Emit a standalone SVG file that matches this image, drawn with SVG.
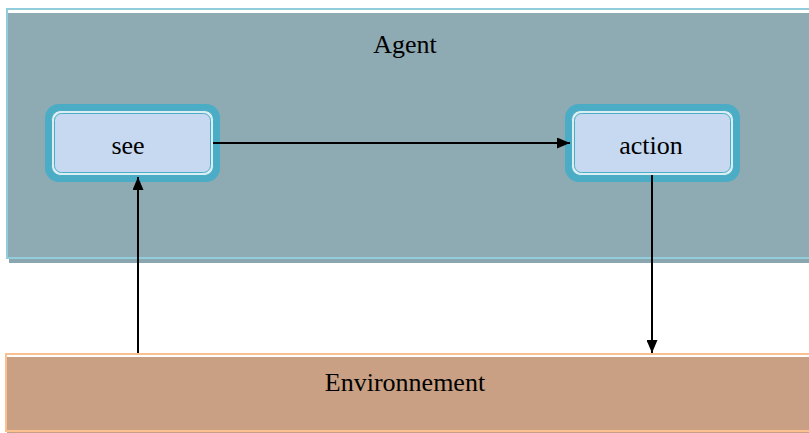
<svg xmlns="http://www.w3.org/2000/svg" width="809" height="433" viewBox="0 0 809 433">
<style>
  .lbl{font-family:"Liberation Serif","Times New Roman",serif;font-size:26px;fill:#000;text-anchor:middle}
  .conn{stroke:#000;stroke-width:2;fill:none}
  .outer{fill:#4bacc6}
  .mid{fill:#dbeef4;stroke:#4bacc6;stroke-width:1}
  .inner{fill:#c6d9f1;stroke:#4bacc6;stroke-width:1}
</style>
<defs>
  <marker id="ah" viewBox="0 0 13 11" refX="13" refY="5.5" markerWidth="13" markerHeight="11" markerUnits="userSpaceOnUse" orient="auto">
    <path d="M0,0 L13,5.5 L0,11 Z" fill="#000"/>
  </marker>
</defs>
<rect width="809" height="433" fill="#fff"/>
<g id="agent">
  <rect x="9" y="13" width="800" height="250" fill="#8aa7af"/>
  <rect x="7" y="13" width="802" height="245" fill="#8eabb3"/>
  <rect x="7" y="9" width="820" height="249" fill="none" stroke="#92cddc" stroke-width="2"/>
  <text class="lbl" x="405" y="53">Agent</text>
</g>
<g id="environnement">
  <rect x="7" y="357" width="802" height="76" fill="#c9a083"/>
  <rect x="6" y="354" width="820" height="77" fill="none" stroke="#fac090" stroke-width="2"/>
  <text class="lbl" x="405" y="391">Environnement</text>
</g>
<g id="see">
  <rect class="outer" x="45" y="104" width="175" height="78" rx="14"/>
  <rect class="mid" x="51.5" y="110.5" width="162" height="65" rx="9"/>
  <rect class="inner" x="54.5" y="113.5" width="156" height="59" rx="7"/>
  <text class="lbl" x="128" y="154">see</text>
</g>
<g id="action">
  <rect class="outer" x="565" y="104" width="175" height="78" rx="14"/>
  <rect class="mid" x="571.5" y="110.5" width="162" height="65" rx="9"/>
  <rect class="inner" x="574.5" y="113.5" width="156" height="59" rx="7"/>
  <text class="lbl" x="651" y="154">action</text>
</g>
<g id="connectors">
  <line class="conn" x1="213" y1="143" x2="570" y2="143" marker-end="url(#ah)"/>
  <line class="conn" x1="138" y1="353" x2="138" y2="177" marker-end="url(#ah)"/>
  <line class="conn" x1="652" y1="175" x2="652" y2="353" marker-end="url(#ah)"/>
</g>
</svg>
